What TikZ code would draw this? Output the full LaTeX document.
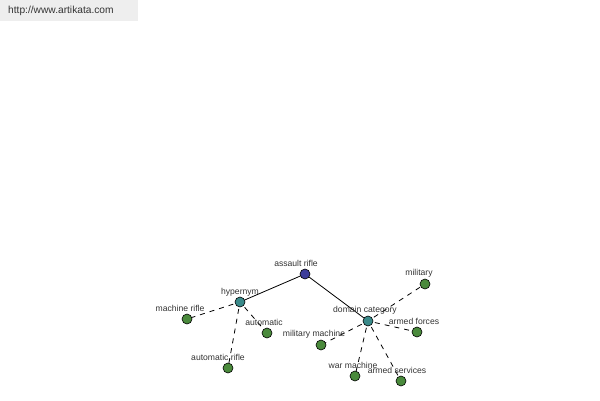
\documentclass[tikz,border=0pt]{standalone}
\usepackage{fontspec}
\setmainfont{Liberation Sans}
\definecolor{rootc}{HTML}{3C3C9A}
\definecolor{midc}{HTML}{3A8A8A}
\definecolor{leafc}{HTML}{4A8A3C}
\definecolor{banner}{HTML}{EEEEEE}
\definecolor{labc}{HTML}{333333}
\begin{document}
\begin{tikzpicture}[x=1pt,y=-1pt,
  dot/.style={circle,draw=black,line width=0.6pt,minimum size=10pt,inner sep=0pt},
  rootdot/.style={dot,fill=rootc},
  middot/.style={dot,fill=midc},
  leafdot/.style={dot,fill=leafc},
  lab/.style={font=\fontsize{8.6}{9}\selectfont,text=labc,inner sep=0pt},
  solidedge/.style={draw=black,line width=0.8pt},
  dashedge/.style={draw=black,line width=0.8pt,dash pattern=on 5pt off 5pt,dash phase=3pt}]
\useasboundingbox (0,0) rectangle (600,400);
\fill[banner] (0,0) rectangle (138,21);
\node[font=\fontsize{10.2}{11}\selectfont,text=labc,anchor=west,inner sep=0pt] (url) at (8,11) {http://www.artikata.com};
% edges
\coordinate (ar) at (305,274);
\coordinate (hy) at (240,302);
\coordinate (dc) at (368,321);
\coordinate (mr) at (187,319);
\coordinate (au) at (267,333);
\coordinate (amr) at (228,368);
\coordinate (mil) at (425,284);
\coordinate (af) at (417,332);
\coordinate (mm) at (321,345);
\coordinate (wm) at (355,376);
\coordinate (as) at (401,381);
\draw[solidedge] (ar) -- (hy);
\draw[solidedge] (ar) -- (dc);
\draw[dashedge] (hy) -- (mr);
\draw[dashedge] (hy) -- (au);
\draw[dashedge] (hy) -- (amr);
\draw[dashedge] (dc) -- (mil);
\draw[dashedge] (dc) -- (af);
\draw[dashedge] (dc) -- (mm);
\draw[dashedge] (dc) -- (wm);
\draw[dashedge] (dc) -- (as);
% nodes
\node[rootdot] (n-ar) at (ar) {};
\node[middot] (n-hy) at (hy) {};
\node[middot] (n-dc) at (dc) {};
\node[leafdot] (n-mr) at (mr) {};
\node[leafdot] (n-au) at (au) {};
\node[leafdot] (n-amr) at (amr) {};
\node[leafdot] (n-mil) at (mil) {};
\node[leafdot] (n-af) at (af) {};
\node[leafdot] (n-mm) at (mm) {};
\node[leafdot] (n-wm) at (wm) {};
\node[leafdot] (n-as) at (as) {};
% labels
\node[lab] (l-ar) at (296,263) {assault rifle};
\node[lab] (l-hy) at (240,292) {hypernym};
\node[lab] (l-dc) at (365,310) {domain category};
\node[lab] (l-mr) at (180,308) {machine rifle};
\node[lab] (l-au) at (264,322) {automatic};
\node[lab] (l-amr) at (218,357) {automatic rifle};
\node[lab] (l-mil) at (419,273) {military};
\node[lab] (l-af) at (414,321) {armed forces};
\node[lab] (l-mm) at (314,334) {military machine};
\node[lab] (l-wm) at (353,365) {war machine};
\node[lab] (l-as) at (397,370) {armed services};
\end{tikzpicture}
\end{document}
